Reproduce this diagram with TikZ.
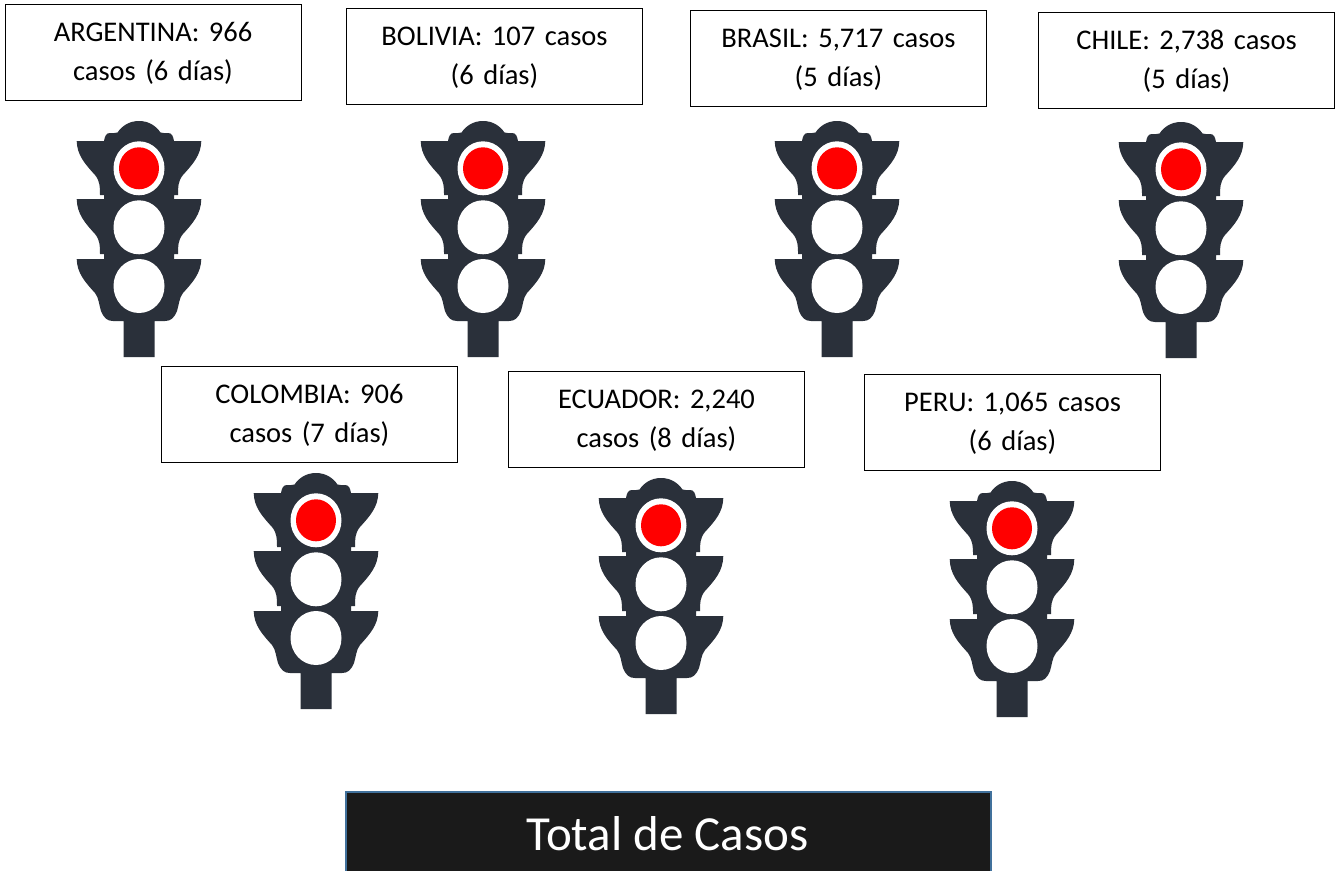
\documentclass[tikz,border=0pt]{standalone}
\usepackage{fontspec}
\setmainfont{Carlito}
\definecolor{lightbody}{HTML}{2A303A}
\definecolor{lampred}{HTML}{FF0000}
\definecolor{darkbar}{HTML}{1A1A1A}
\definecolor{barline}{HTML}{41719C}
\newcommand{\halfbody}[1]{%
 (0,0) .. controls (#1*10,0) and (#1*17,5) .. (#1*21.5,11.5)
 .. controls (#1*24,12.5) and (#1*27,12) .. (#1*29,12)
 .. controls (#1*33,12) and (#1*34,15) .. (#1*35,20)
 -- (#1*62.3,20)
 .. controls (#1*62,34) and (#1*54,43) .. (#1*44,54)
 .. controls (#1*39,60) and (#1*39,66) .. (#1*39,74)
 -- (#1*35,74) -- (#1*35,78) -- (#1*62.3,78)
 .. controls (#1*62,93) and (#1*54,102) .. (#1*44,113)
 .. controls (#1*39,119) and (#1*39,125) .. (#1*39,133)
 -- (#1*35,133) -- (#1*35,138) -- (#1*62.3,138)
 .. controls (#1*62,152) and (#1*54,161) .. (#1*44,172)
 .. controls (#1*40,177) and (#1*40,184) .. (#1*38,190)
 .. controls (#1*35,197) and (#1*32,200) .. (#1*26,200)
 -- (#1*15.5,200) -- (#1*15.5,236) -- (0,236)}
\tikzset{
 x=1pt,y=-1pt,
 casebox/.style={draw=black,line width=0.9pt,fill=white,minimum width=296pt,minimum height=96pt,
   inner sep=0pt,align=center,text width=290pt,font=\fontsize{28.5}{39}\selectfont\frenchspacing,
   execute at begin node={\rule{0pt}{22.5pt}}},
 totalbox/.style={draw=barline,line width=2.5pt,fill=darkbar,text=white,minimum width=645pt,minimum height=100pt,
   inner sep=0pt},
 totaltext/.style={text=white,inner sep=0pt,font=\fontsize{49}{54}\selectfont\frenchspacing},
 lamp/.style={fill=white,draw=none},
 redlamp/.style={fill=lampred,draw=none},
 light/.pic={
  \fill[lightbody] \halfbody{1} -- cycle;
  \fill[lightbody] \halfbody{-1} -- cycle;
  \fill[lamp] (0,47.3) ellipse [x radius=25.5pt,y radius=27pt];
  \fill[lamp] (0,106.3) ellipse [x radius=25.5pt,y radius=27pt];
  \fill[lamp] (0,165) ellipse [x radius=25.5pt,y radius=27pt];
  \fill[redlamp] (0,47.3) ellipse [x radius=20pt,y radius=21pt];
 }
}
\begin{document}
\begin{tikzpicture}
\useasboundingbox (0,0) rectangle (1338,870);
\node[casebox] (ar) at (153,52) {ARGENTINA: 966\\casos (6 días)};
\node[casebox] (bo) at (494.5,56) {BOLIVIA: 107 casos\\(6 días)};
\node[casebox] (br) at (838.5,58) {BRASIL: 5,717 casos\\(5 días)};
\node[casebox] (ch) at (1186.5,60) {CHILE: 2,738 casos\\(5 días)};
\node[casebox] (co) at (309.5,414) {COLOMBIA: 906\\casos (7 días)};
\node[casebox] (ec) at (656.5,419) {ECUADOR: 2,240\\casos (8 días)};
\node[casebox] (pe) at (1012.5,422) {PERU: 1,065 casos\\(6 días)};
\pic (l1) at (139,121) {light};
\pic (l2) at (483,121) {light};
\pic (l3) at (837,121) {light};
\pic (l4) at (1181,122) {light};
\pic (l5) at (316,473) {light};
\pic (l6) at (661,478) {light};
\pic (l7) at (1012,481) {light};
\begin{scope}
\clip (0,0) rectangle (1338,870);
\node[totalbox] (tot) at (668.5,842) {};
\end{scope}
\node[totaltext] (totlabel) at (667.5,834) {Total de Casos};
\end{tikzpicture}
\end{document}
